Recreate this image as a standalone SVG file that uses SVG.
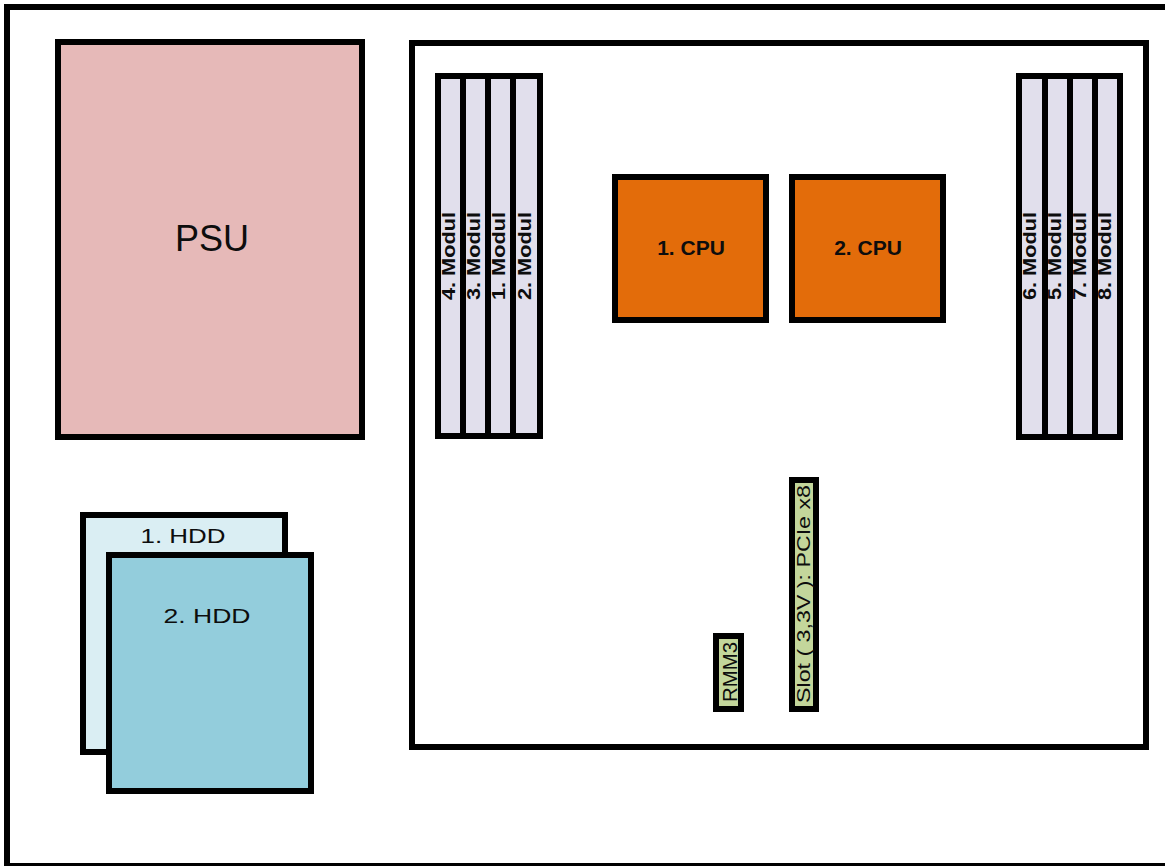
<svg xmlns="http://www.w3.org/2000/svg" width="1165" height="866" viewBox="0 0 1165 866">
  <style>
    .b { stroke: #000; stroke-width: 6; }
    .mem { fill: #E1DFEC; stroke: #000; stroke-width: 6; }
    .cpu { fill: #E36C0A; stroke: #000; stroke-width: 6; }
    .grn { fill: #C3D69B; stroke: #000; stroke-width: 6; }
    .t { font-family: "Liberation Sans", Arial, sans-serif; fill: #0d0d0d; text-anchor: middle; }
    .mt { font-size: 18px; font-weight: bold; }
  </style>
  <rect x="0" y="0" width="1165" height="866" fill="#fff"/>
  <g id="chassis">
    <rect x="7" y="7" width="1163" height="859" fill="#fff" class="b"/>
  </g>
  <g id="psu">
    <rect x="58" y="42" width="304" height="395" fill="#E6B9B8" class="b"/>
    <text class="t" x="212" y="251" font-size="36">PSU</text>
  </g>
  <g id="hdd1">
    <rect x="83" y="515" width="202" height="237" fill="#DAEEF3" class="b"/>
    <text class="t" x="183" y="543" font-size="20" textLength="85" lengthAdjust="spacingAndGlyphs">1. HDD</text>
  </g>
  <g id="hdd2">
    <rect x="109" y="555" width="202" height="236" fill="#93CDDC" class="b"/>
    <text class="t" x="207" y="623" font-size="20" textLength="87" lengthAdjust="spacingAndGlyphs">2. HDD</text>
  </g>
  <g id="mainboard">
    <rect x="412" y="43" width="734" height="704" fill="#fff" class="b"/>
  </g>
  <g id="modul4">
    <rect x="438" y="76" width="25" height="360" class="mem"/>
    <text class="t mt" transform="translate(455,256) rotate(-90)" textLength="88" lengthAdjust="spacingAndGlyphs">4. Modul</text>
  </g>
  <g id="modul3">
    <rect x="463" y="76" width="25" height="360" class="mem"/>
    <text class="t mt" transform="translate(480,256) rotate(-90)" textLength="88" lengthAdjust="spacingAndGlyphs">3. Modul</text>
  </g>
  <g id="modul1">
    <rect x="488" y="76" width="25" height="360" class="mem"/>
    <text class="t mt" transform="translate(505,256) rotate(-90)" textLength="88" lengthAdjust="spacingAndGlyphs">1. Modul</text>
  </g>
  <g id="modul2">
    <rect x="513" y="76" width="27" height="360" class="mem"/>
    <text class="t mt" transform="translate(531,256) rotate(-90)" textLength="88" lengthAdjust="spacingAndGlyphs">2. Modul</text>
  </g>
  <g id="modul6">
    <rect x="1019" y="76" width="26" height="361" class="mem"/>
    <text class="t mt" transform="translate(1036,256) rotate(-90)" textLength="88" lengthAdjust="spacingAndGlyphs">6. Modul</text>
  </g>
  <g id="modul5">
    <rect x="1045" y="76" width="25" height="361" class="mem"/>
    <text class="t mt" transform="translate(1061,256) rotate(-90)" textLength="88" lengthAdjust="spacingAndGlyphs">5. Modul</text>
  </g>
  <g id="modul7">
    <rect x="1070" y="76" width="25" height="361" class="mem"/>
    <text class="t mt" transform="translate(1086,256) rotate(-90)" textLength="88" lengthAdjust="spacingAndGlyphs">7. Modul</text>
  </g>
  <g id="modul8">
    <rect x="1095" y="76" width="25" height="361" class="mem"/>
    <text class="t mt" transform="translate(1111,256) rotate(-90)" textLength="88" lengthAdjust="spacingAndGlyphs">8. Modul</text>
  </g>
  <g id="cpu1">
    <rect x="615" y="177" width="151" height="143" class="cpu"/>
    <text class="t" x="691" y="255" font-size="21" font-weight="bold">1. CPU</text>
  </g>
  <g id="cpu2">
    <rect x="792" y="177" width="151" height="143" class="cpu"/>
    <text class="t" x="868" y="255" font-size="21" font-weight="bold">2. CPU</text>
  </g>
  <g id="rmm3">
    <rect x="716" y="636" width="25" height="73" class="grn"/>
    <text class="t" transform="translate(737,672) rotate(-90)" font-size="21" textLength="60" lengthAdjust="spacingAndGlyphs">RMM3</text>
  </g>
  <g id="pcie-slot">
    <rect x="792" y="480" width="24" height="229" class="grn"/>
    <text class="t" transform="translate(810,594) rotate(-90)" font-size="18" textLength="218" lengthAdjust="spacingAndGlyphs">Slot ( 3,3V ): PCIe x8</text>
  </g>
  <g id="connectors"/>
</svg>
